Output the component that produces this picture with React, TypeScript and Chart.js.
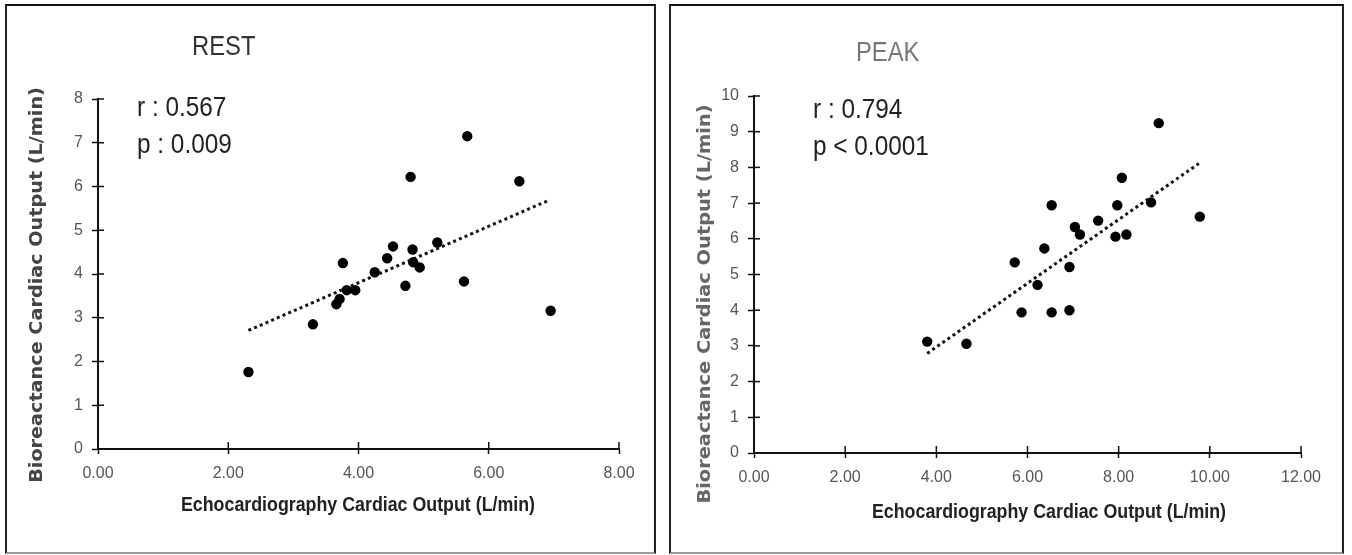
import React, { useEffect, useRef } from 'react';
import { Chart, registerables } from 'chart.js';

Chart.register(...registerables);

// ---- REST data ----
const restEcho = [2.31, 3.30, 3.66, 3.71, 3.76, 3.82, 3.95, 4.25, 4.44, 4.53, 4.72, 4.80, 4.83, 4.84, 4.94, 5.21, 5.62, 5.67, 6.47, 6.95];
const restBio = [1.76, 2.85, 3.31, 3.43, 4.25, 3.63, 3.63, 4.04, 4.36, 4.63, 3.73, 6.22, 4.56, 4.27, 4.15, 4.72, 3.83, 7.15, 6.12, 3.16];
const restTrendX = [2.31, 6.93];
const restTrendY = [2.71, 5.69];
const restXTicks = [0, 2, 4, 6, 8];
const restYTicks = [0, 1, 2, 3, 4, 5, 6, 7, 8];

// ---- PEAK data ----
const peakEcho = [3.80, 4.66, 5.72, 5.87, 6.22, 6.37, 6.53, 6.53, 6.92, 6.92, 7.04, 7.15, 7.55, 7.93, 7.97, 8.07, 8.17, 8.71, 8.88, 9.78];
const peakBio = [3.12, 3.06, 5.34, 3.94, 4.71, 5.73, 6.94, 3.94, 5.21, 4.00, 6.33, 6.12, 6.51, 6.06, 6.94, 7.71, 6.12, 7.02, 9.24, 6.62];
const peakTrendX = [3.80, 9.76];
const peakTrendY = [2.79, 8.11];
const peakXTicks = [0, 2, 4, 6, 8, 10, 12];
const peakYTicks = [0, 1, 2, 3, 4, 5, 6, 7, 8, 9, 10];

const xTitle = 'Echocardiography Cardiac Output (L/min)';
const yTitle = 'Bioreactance Cardiac Output (L/min)';

const SANS = '"Liberation Sans", Arial, sans-serif';
const WIDEB = '"DejaVu Sans", "Liberation Sans", Arial, sans-serif';

type TextItem = {
  text: string;
  x: number;
  y: number;
  font: string;
  color: string;
  rotate?: boolean;
  align?: CanvasTextAlign;
  stretch?: number;
};

const panelPlugin = {
  id: 'panelText',
  afterDraw(chart: any, _args: any, opts: any) {
    const ctx = chart.ctx as CanvasRenderingContext2D;
    const { chartArea } = chart;
    const xs = chart.scales.x;
    const ys = chart.scales.y;
    // inner halves of the tick marks (ticks cross the axes)
    ctx.save();
    ctx.strokeStyle = '#111';
    ctx.lineWidth = 1.5;
    xs.ticks.forEach((t: any) => {
      const px = xs.getPixelForValue(t.value);
      ctx.beginPath();
      ctx.moveTo(px, chartArea.bottom);
      ctx.lineTo(px, chartArea.bottom - 7);
      ctx.stroke();
    });
    ys.ticks.forEach((t: any) => {
      const py = ys.getPixelForValue(t.value);
      ctx.beginPath();
      ctx.moveTo(chartArea.left, py);
      ctx.lineTo(chartArea.left + 6, py);
      ctx.stroke();
    });
    ctx.restore();
    const items: TextItem[] = (opts && opts.items) || [];
    items.forEach((it) => {
      ctx.save();
      ctx.font = it.font;
      ctx.fillStyle = it.color;
      ctx.textBaseline = 'middle';
      ctx.textAlign = it.align || 'left';
      ctx.translate(it.x, it.y);
      if (it.rotate) ctx.rotate(-Math.PI / 2);
      ctx.scale(it.stretch || 1, 1);
      ctx.fillText(it.text, 0, 0);
      ctx.restore();
    });
  },
};

type PanelCfg = {
  boxLeft: number;
  boxWidth: number;
  echo: number[];
  bio: number[];
  trendX: number[];
  trendY: number[];
  xTicks: number[];
  yTicks: number[];
  yWidth: number;
  padRight: number;
  padTop: number;
  xHeight: number;
  items: TextItem[];
};

function Panel({ cfg }: { cfg: PanelCfg }) {
  const ref = useRef<HTMLCanvasElement>(null);
  const W = cfg.boxWidth - 4;
  const H = 546;
  useEffect(() => {
    if (!ref.current) return;
    const xMin = cfg.xTicks[0];
    const xMax = cfg.xTicks[cfg.xTicks.length - 1];
    const yMin = cfg.yTicks[0];
    const yMax = cfg.yTicks[cfg.yTicks.length - 1];
    const chart = new Chart(ref.current, {
      type: 'scatter',
      data: {
        datasets: [
          {
            type: 'line',
            data: cfg.trendX.map((x, i) => ({ x, y: cfg.trendY[i] })),
            borderColor: '#111',
            borderWidth: 3,
            borderDash: [3, 3.2],
            pointRadius: 0,
            fill: false,
          } as any,
          {
            type: 'scatter',
            data: cfg.echo.map((x, i) => ({ x, y: cfg.bio[i] })),
            backgroundColor: '#000',
            borderColor: '#000',
            borderWidth: 0,
            pointRadius: 5.2,
          },
        ],
      },
      options: {
        animation: false,
        responsive: false,
        devicePixelRatio: 1,
        layout: { padding: { left: 0, right: cfg.padRight, top: cfg.padTop, bottom: 0 } },
        plugins: {
          legend: { display: false },
          tooltip: { enabled: false },
          panelText: { items: cfg.items },
        } as any,
        scales: {
          x: {
            type: 'linear',
            min: xMin,
            max: xMax,
            afterBuildTicks: (s: any) => {
              s.ticks = cfg.xTicks.map((v) => ({ value: v }));
            },
            afterFit: (s: any) => {
              s.height = cfg.xHeight;
            },
            ticks: {
              color: '#555',
              font: { family: SANS, size: 16 },
              padding: 10,
              maxRotation: 0,
              callback: (v: any) => Number(v).toFixed(2),
            },
            grid: { drawOnChartArea: false, drawTicks: true, tickLength: 5, tickColor: '#111', tickWidth: 1.5 },
            border: { display: true, color: '#111', width: 2 },
          },
          y: {
            type: 'linear',
            min: yMin,
            max: yMax,
            afterBuildTicks: (s: any) => {
              s.ticks = cfg.yTicks.map((v) => ({ value: v }));
            },
            afterFit: (s: any) => {
              s.width = cfg.yWidth;
            },
            ticks: {
              color: '#555',
              font: { family: SANS, size: 16 },
              padding: 9,
              callback: (v: any) => String(v),
            },
            grid: { drawOnChartArea: false, drawTicks: true, tickLength: 6, tickColor: '#111', tickWidth: 1.5 },
            border: { display: true, color: '#111', width: 2 },
          },
        },
      },
      plugins: [panelPlugin as any],
    });
    return () => chart.destroy();
  }, [cfg]);
  return (
    <div
      style={{
        position: 'absolute',
        left: cfg.boxLeft,
        top: 4,
        width: cfg.boxWidth,
        height: 550,
        boxSizing: 'border-box',
        borderTop: '2px solid #111',
        borderLeft: '2px solid #222',
        borderRight: '2px solid #222',
        borderBottom: '2px solid #999',
        background: '#fff',
      }}
    >
      <canvas ref={ref} width={W} height={H} style={{ width: W, height: H, display: 'block' }} />
    </div>
  );
}

const restCfg: PanelCfg = {
  boxLeft: 5,
  boxWidth: 651,
  echo: restEcho,
  bio: restBio,
  trendX: restTrendX,
  trendY: restTrendY,
  xTicks: restXTicks,
  yTicks: restYTicks,
  yWidth: 91,
  padRight: 35,
  padTop: 93,
  xHeight: 103,
  items: [
    { text: 'REST', x: 185, y: 41, font: `28px ${SANS}`, color: '#333', stretch: 0.85 },
    { text: 'r : 0.567', x: 130, y: 102, font: `28px ${SANS}`, color: '#222', stretch: 0.87 },
    { text: 'p : 0.009', x: 130, y: 139, font: `28px ${SANS}`, color: '#222', stretch: 0.87 },
    { text: yTitle, x: 31, y: 279, font: `bold 17px ${WIDEB}`, color: '#444', rotate: true, align: 'center', stretch: 1.13 },
    { text: xTitle, x: 351, y: 499, font: `bold 20px ${SANS}`, color: '#222', align: 'center', stretch: 0.89 },
  ],
};

const peakCfg: PanelCfg = {
  boxLeft: 669,
  boxWidth: 675,
  echo: peakEcho,
  bio: peakBio,
  trendX: peakTrendX,
  trendY: peakTrendY,
  xTicks: peakXTicks,
  yTicks: peakYTicks,
  yWidth: 83,
  padRight: 41,
  padTop: 90,
  xHeight: 99,
  items: [
    { text: 'PEAK', x: 185, y: 47, font: `28px ${SANS}`, color: '#777', stretch: 0.85 },
    { text: 'r : 0.794', x: 142, y: 104, font: `28px ${SANS}`, color: '#222', stretch: 0.87 },
    { text: 'p < 0.0001', x: 142, y: 141, font: `28px ${SANS}`, color: '#222', stretch: 0.87 },
    { text: yTitle, x: 35, y: 298, font: `bold 17px ${WIDEB}`, color: '#666', rotate: true, align: 'center', stretch: 1.14 },
    { text: xTitle, x: 378, y: 506, font: `bold 20px ${SANS}`, color: '#222', align: 'center', stretch: 0.89 },
  ],
};

export default function App() {
  useEffect(() => {
    document.body.style.margin = '0';
    document.body.style.background = '#fff';
  }, []);
  return (
    <div style={{ position: 'relative', width: 1352, height: 555, background: '#fff', overflow: 'hidden' }}>
      <Panel cfg={restCfg} />
      <Panel cfg={peakCfg} />
    </div>
  );
}
